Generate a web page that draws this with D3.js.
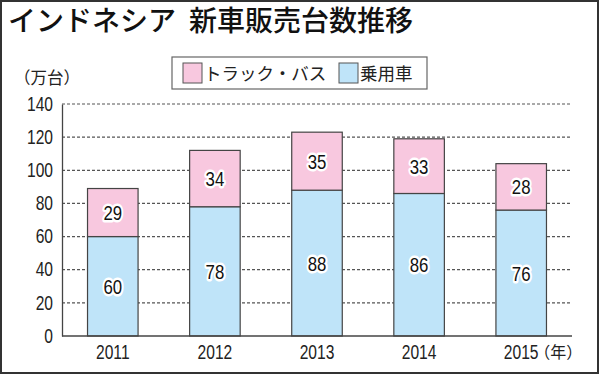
<!DOCTYPE html>
<html>
<head>
<meta charset="utf-8">
<script src="https://cdn.jsdelivr.net/npm/d3@7"></script>
<style>
  body { margin: 0; background: #fff; }
  svg text { font-family: "Liberation Sans", Arial, sans-serif; }
  svg text.jp { font-family: "Noto Sans CJK JP", sans-serif; }
</style>
</head>
<body>
<div id="grafico"></div>
<script>
// データ
const years = ['2011', '2012', '2013', '2014', '2015'];
const passenger = [60, 78, 88, 86, 76]; // 乗用車
const truckBus = [29, 34, 35, 33, 28]; // トラック・バス
const yTicks = [0, 20, 40, 60, 80, 100, 120, 140];

const width = 600;
const height = 375;
const margin = { top: 104, right: 28, bottom: 39, left: 62 };
const estreito = 0.8; // 数字は細めの書体に見せるため横方向に縮める

const svg = d3.select('#grafico')
  .append('svg')
  .attr('width', width)
  .attr('height', height);

// 外枠
svg.append('rect')
  .attr('x', 1).attr('y', 1)
  .attr('width', width - 3).attr('height', height - 3)
  .attr('fill', '#fff')
  .attr('stroke', '#333')
  .attr('stroke-width', 2);

// タイトル
svg.append('text')
  .attr('class', 'jp')
  .attr('x', 8).attr('y', 31)
  .attr('font-size', 28)
  .attr('font-weight', 500)
  .attr('fill', '#111')
  .text('インドネシア');
svg.append('text')
  .attr('class', 'jp')
  .attr('x', 189).attr('y', 31)
  .attr('font-size', 28)
  .attr('font-weight', 500)
  .attr('fill', '#111')
  .text('新車販売台数推移');

// 単位
svg.append('text')
  .attr('class', 'jp')
  .attr('x', 14).attr('y', 84)
  .attr('font-size', 16.5)
  .attr('fill', '#222')
  .text('（万台）');

const x = d3.scaleBand()
  .domain(years)
  .range([margin.left, width - margin.right])
  .paddingInner(0.505)
  .paddingOuter(0.25);

const y = d3.scaleLinear()
  .domain([0, 140])
  .range([height - margin.bottom, margin.top]);

// 目盛り線（点線）
svg.append('g')
  .selectAll('line')
  .data(yTicks.slice(1))
  .enter()
  .append('line')
  .attr('x1', margin.left)
  .attr('x2', width - margin.right)
  .attr('y1', (d) => y(d))
  .attr('y2', (d) => y(d))
  .attr('stroke', '#555')
  .attr('stroke-width', 1.2)
  .attr('stroke-dasharray', '3,2');

// Y軸
const yAxis = svg.append('g')
  .attr('transform', `translate(${margin.left},0)`)
  .call(d3.axisLeft(y).tickValues(yTicks).tickSize(0).tickPadding(9));
yAxis.select('.domain').attr('stroke', '#444').attr('stroke-width', 1.3);
yAxis.selectAll('text')
  .attr('font-size', 19.5)
  .attr('fill', '#222')
  .attr('x', -9 / estreito)
  .attr('transform', `scale(${estreito},1)`);

// 積み上げデータ
const dados = years.map((ano, i) => ({ ano, p: passenger[i], t: truckBus[i] }));

// 乗用車
svg.append('g')
  .selectAll('rect')
  .data(dados)
  .enter()
  .append('rect')
  .attr('x', (d) => x(d.ano))
  .attr('width', x.bandwidth())
  .attr('y', (d) => y(d.p))
  .attr('height', (d) => y(0) - y(d.p))
  .attr('fill', '#bfe4f9')
  .attr('stroke', '#444')
  .attr('stroke-width', 1.2);

// トラック・バス
svg.append('g')
  .selectAll('rect')
  .data(dados)
  .enter()
  .append('rect')
  .attr('x', (d) => x(d.ano))
  .attr('width', x.bandwidth())
  .attr('y', (d) => y(d.p + d.t))
  .attr('height', (d) => y(d.p) - y(d.p + d.t))
  .attr('fill', '#f8c8df')
  .attr('stroke', '#444')
  .attr('stroke-width', 1.2);

// X軸のベースライン
svg.append('line')
  .attr('x1', margin.left).attr('x2', width - margin.right)
  .attr('y1', y(0)).attr('y2', y(0))
  .attr('stroke', '#444')
  .attr('stroke-width', 1.3);

// 数値ラベル（白縁取り）
function rotulo(sel, valor, meio) {
  sel.enter()
    .append('text')
    .attr('transform', (d) =>
      `translate(${x(d.ano) + x.bandwidth() / 2},${y(meio(d))}) scale(${estreito},1)`)
    .attr('dy', '0.36em')
    .attr('text-anchor', 'middle')
    .attr('font-size', 21)
    .attr('fill', '#111')
    .attr('stroke', '#fff')
    .attr('stroke-width', 5)
    .attr('stroke-linejoin', 'round')
    .attr('paint-order', 'stroke')
    .text(valor);
}
rotulo(svg.append('g').selectAll('text').data(dados), (d) => d.p, (d) => d.p / 2);
rotulo(svg.append('g').selectAll('text').data(dados), (d) => d.t, (d) => d.p + d.t / 2);

// X軸ラベル
svg.append('g')
  .selectAll('text')
  .data(years)
  .enter()
  .append('text')
  .attr('transform', (d) =>
    `translate(${x(d) + x.bandwidth() / 2},359) scale(${estreito},1)`)
  .attr('text-anchor', 'middle')
  .attr('font-size', 19.5)
  .attr('fill', '#222')
  .text((d) => d);

svg.append('text')
  .attr('class', 'jp')
  .attr('x', x('2015') + x.bandwidth() / 2 + 13)
  .attr('y', 358)
  .attr('font-size', 16)
  .attr('fill', '#222')
  .text('（年）');

// 凡例
const legenda = svg.append('g');
legenda.append('rect')
  .attr('x', 172).attr('y', 57)
  .attr('width', 255).attr('height', 32)
  .attr('fill', '#fff')
  .attr('stroke', '#666')
  .attr('stroke-width', 1.2);

const itens = [
  { nome: 'トラック・バス', cor: '#f8c8df', x: 183 },
  { nome: '乗用車', cor: '#bfe4f9', x: 339 }
];
itens.forEach((it) => {
  legenda.append('rect')
    .attr('x', it.x).attr('y', 63)
    .attr('width', 19).attr('height', 20)
    .attr('fill', it.cor)
    .attr('stroke', '#555')
    .attr('stroke-width', 1);
  legenda.append('text')
    .attr('class', 'jp')
    .attr('x', it.x + 21).attr('y', 80)
    .attr('font-size', 17.5)
    .attr('fill', '#222')
    .text(it.nome);
});
</script>
</body>
</html>
